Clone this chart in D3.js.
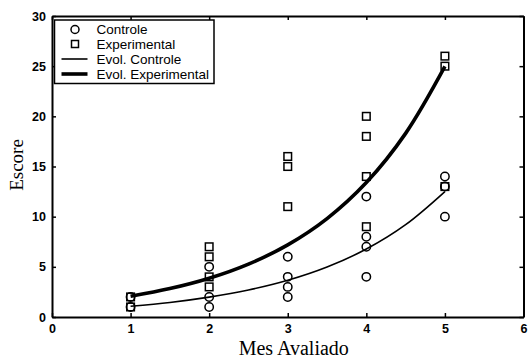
<!DOCTYPE html>
<html><head><meta charset="utf-8">
<script src="https://cdn.jsdelivr.net/npm/d3@7"></script>
<style>body{margin:0;background:#fff}</style>
</head><body>
<svg id="c" width="528" height="360"></svg>
<script>
// data
const controleX = [1,1,2,2,2,3,3,3,3,4,4,4,4,5,5,5];
const controleY = [1,2,1,2,5,2,3,4,6,4,7,8,12,10,13,14];
const expX = [1,1,2,2,2,2,3,3,3,4,4,4,4,5,5,5];
const expY = [1,2,3,4,6,7,11,15,16,9,14,18,20,13,25,26];
const curveX = [1,1.5,2,2.5,3,3.5,4,4.5,5];
const evolControle = [1.07,1.45,1.98,2.69,3.66,4.98,6.77,9.2,12.5];
const evolExp = [2.07,2.83,3.86,5.27,7.19,9.81,13.4,18.3,24.97];
const xTicks = [0,1,2,3,4,5,6];
const yTicks = [0,5,10,15,20,25,30];
const legendLabels = ["Controle","Experimental","Evol. Controle","Evol. Experimental"];

const svg = d3.select("#c");
const L=52, R=523.5, T=16, B=317;
const x = d3.scaleLinear().domain([0,6]).range([L,R]);
const y = d3.scaleLinear().domain([0,30]).range([B,T]);

const tickFont = "bold 12.5px 'Liberation Sans', Arial, sans-serif";

// axes
const ax = svg.append("g").attr("transform",`translate(0,${B})`)
  .call(d3.axisBottom(x).tickValues(xTicks).tickSizeInner(-4).tickSizeOuter(0).tickPadding(7).tickFormat(d3.format("d")));
const ay = svg.append("g").attr("transform",`translate(${L},0)`)
  .call(d3.axisLeft(y).tickValues(yTicks).tickSizeInner(-4).tickSizeOuter(0).tickPadding(6).tickFormat(d3.format("d")));
const axt = svg.append("g").attr("transform",`translate(0,${T})`)
  .call(d3.axisTop(x).tickValues(xTicks).tickSizeInner(-4).tickSizeOuter(0).tickFormat(""));
const ayr = svg.append("g").attr("transform",`translate(${R},0)`)
  .call(d3.axisRight(y).tickValues(yTicks).tickSizeInner(-4).tickSizeOuter(0).tickFormat(""));
[ax,ay,axt,ayr].forEach(g=>{
  g.select(".domain").attr("stroke","#000").attr("stroke-width",2);
  g.selectAll(".tick line").attr("stroke","#000").attr("stroke-width",1.5);
  g.selectAll(".tick text").style("font",tickFont).attr("fill","#000");
});

// curves
const line = d3.line().curve(d3.curveCatmullRom);
svg.append("path").datum(curveX.map((d,i)=>[x(d),y(evolControle[i])]))
  .attr("d",line).attr("fill","none").attr("stroke","#000").attr("stroke-width",1.6);
svg.append("path").datum(curveX.map((d,i)=>[x(d),y(evolExp[i])]))
  .attr("d",line).attr("fill","none").attr("stroke","#000").attr("stroke-width",3.6);

// markers
svg.append("g").selectAll("rect").data(expX).join("rect")
  .attr("x",(d)=>x(d)-3.8).attr("y",(d,i)=>y(expY[i])-3.8)
  .attr("width",7.6).attr("height",7.6).attr("fill","none").attr("stroke","#000").attr("stroke-width",1.5);
svg.append("g").selectAll("circle").data(controleX).join("circle")
  .attr("cx",d=>x(d)).attr("cy",(d,i)=>y(controleY[i])).attr("r",4.2)
  .attr("fill","none").attr("stroke","#000").attr("stroke-width",1.5);

// legend
const lg = svg.append("g");
lg.append("rect").attr("x",54.5).attr("y",20).attr("width",159.5).attr("height",63.5)
  .attr("fill","#fff").attr("stroke","#000").attr("stroke-width",1.5);
const rowsY = [29.5,44,59,74];
lg.append("circle").attr("cx",75).attr("cy",rowsY[0]).attr("r",4).attr("fill","none").attr("stroke","#000").attr("stroke-width",1.5);
lg.append("rect").attr("x",71.5).attr("y",rowsY[1]-3.5).attr("width",7).attr("height",7).attr("fill","none").attr("stroke","#000").attr("stroke-width",1.5);
lg.append("line").attr("x1",61.5).attr("x2",87.5).attr("y1",rowsY[2]).attr("y2",rowsY[2]).attr("stroke","#000").attr("stroke-width",1.6);
lg.append("line").attr("x1",61.5).attr("x2",87.5).attr("y1",rowsY[3]).attr("y2",rowsY[3]).attr("stroke","#000").attr("stroke-width",3.6);
lg.selectAll("text.l").data(legendLabels).join("text").attr("class","l")
  .attr("x",96.5).attr("y",(d,i)=>rowsY[i]).attr("dy","0.36em")
  .style("font","13.5px 'Liberation Sans', Arial, sans-serif").text(d=>d);

// axis labels
svg.append("text").attr("x",(L+R)/2+6).attr("y",355).attr("text-anchor","middle")
  .style("font","20px 'Liberation Serif', 'Times New Roman', serif").text("Mes Avaliado");
svg.append("text").attr("transform","translate(23,165) rotate(-90)").attr("text-anchor","middle")
  .style("font","19px 'Liberation Serif', 'Times New Roman', serif").text("Escore");
</script>
</body></html>
